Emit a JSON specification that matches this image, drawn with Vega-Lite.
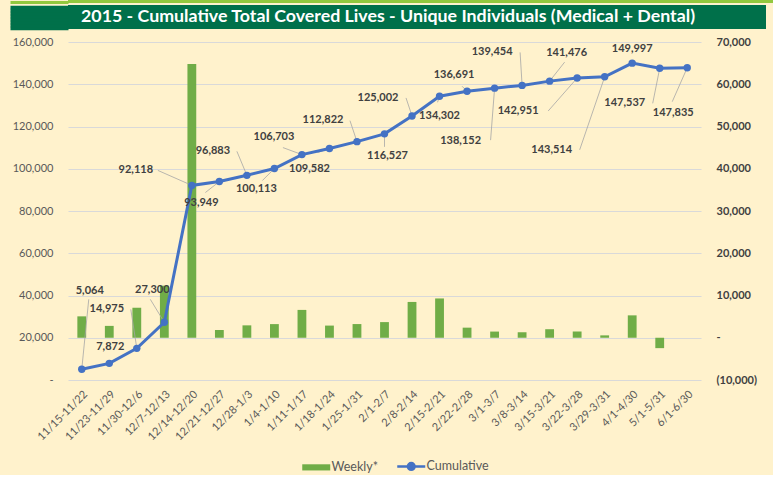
{
  "$schema": "https://vega.github.io/schema/vega-lite/v6.json",
  "background": "#FFF2CC",
  "padding": {"left": 8, "top": 0, "right": 0, "bottom": 0},
  "config": {
    "view": {"stroke": null},
    "font": "Lato",
    "axis": {"labelFont": "Lato", "titleFont": "Lato"},
    "legend": {"labelFont": "Lato"}
  },
  "datasets": {
    "main": [
      {"week": "11/15-11/22", "weekly": 5064, "cumulative": 5064},
      {"week": "11/23-11/29", "weekly": 2808, "cumulative": 7872},
      {"week": "11/30-12/6", "weekly": 7103, "cumulative": 14975},
      {"week": "12/7-12/13", "weekly": 12325, "cumulative": 27300},
      {"week": "12/14-12/20", "weekly": 64818, "cumulative": 92118},
      {"week": "12/21-12/27", "weekly": 1831, "cumulative": 93949},
      {"week": "12/28-1/3", "weekly": 2934, "cumulative": 96883},
      {"week": "1/4-1/10", "weekly": 3230, "cumulative": 100113},
      {"week": "1/11-1/17", "weekly": 6590, "cumulative": 106703},
      {"week": "1/18-1/24", "weekly": 2879, "cumulative": 109582},
      {"week": "1/25-1/31", "weekly": 3240, "cumulative": 112822},
      {"week": "2/1-2/7", "weekly": 3705, "cumulative": 116527},
      {"week": "2/8-2/14", "weekly": 8475, "cumulative": 125002},
      {"week": "2/15-2/21", "weekly": 9300, "cumulative": 134302},
      {"week": "2/22-2/28", "weekly": 2389, "cumulative": 136691},
      {"week": "3/1-3/7", "weekly": 1461, "cumulative": 138152},
      {"week": "3/8-3/14", "weekly": 1302, "cumulative": 139454},
      {"week": "3/15-3/21", "weekly": 2022, "cumulative": 141476},
      {"week": "3/22-3/28", "weekly": 1475, "cumulative": 142951},
      {"week": "3/29-3/31", "weekly": 563, "cumulative": 143514},
      {"week": "4/1-4/30", "weekly": 5300, "cumulative": 149997},
      {"week": "5/1-5/31", "weekly": -2460, "cumulative": 147537},
      {"week": "6/1-6/30", "weekly": 0, "cumulative": 147835}
    ]
  },
  "columns": 1,
  "spacing": 6,
  "concat": [
    {
      "columns": 1,
      "spacing": 1,
      "concat": [
        {
          "width": 705,
          "height": 3,
          "view": {"fill": "#92C83E", "stroke": null},
          "data": {"values": [{"t": ""}]},
          "mark": {"type": "text", "fontSize": 0},
          "encoding": {
            "text": {"field": "t"},
            "y": {
              "datum": 0.5,
              "type": "quantitative",
              "scale": {"domain": [0, 1]},
              "axis": {"values": [0.5], "orient": "left", "tickSize": 58, "tickWidth": 3, "tickColor": "#92C83E", "tickCap": "butt", "labels": false, "domain": false, "grid": false, "title": null}
            }
          }
        },
        {
          "width": 698,
          "height": 24,
          "view": {"fill": "#00704A", "stroke": null},
          "data": {"values": [{"t": "2015 - Cumulative Total Covered Lives - Unique Individuals (Medical + Dental)"}]},
          "mark": {"type": "text", "color": "#FFFFFF", "fontSize": 17.8, "fontWeight": "bold", "font": "Lato", "dx": -29},
          "encoding": {
            "text": {"field": "t"},
            "y": {
              "datum": 0.5,
              "type": "quantitative",
              "scale": {"domain": [0, 1]},
              "axis": {"values": [0.0625, 0.1875, 0.3125, 0.4375, 0.5625, 0.6875, 0.8125, 0.9375], "orient": "left", "tickSize": 58, "tickWidth": 3.3, "tickColor": "#00704A", "tickCap": "butt", "labels": false, "domain": false, "grid": false, "title": null}
            }
          }
        }
      ]
    },
    {
      "width": 633,
      "height": 338,
      "data": {"name": "main"},
      "encoding": {
        "x": {
          "field": "week",
          "type": "nominal",
          "sort": null,
          "scale": {"paddingInner": 0, "paddingOuter": 0},
          "axis": {
            "title": null,
            "labelAngle": -45,
            "domain": false,
            "ticks": false,
            "labelColor": "#595959",
            "labelFontSize": 11,
            "labelPadding": 8,
            "labelOverlap": false
          }
        }
      },
      "layer": [
        {
          "mark": {"type": "bar", "width": {"band": 0.32}},
          "encoding": {
            "y": {
              "field": "weekly",
              "type": "quantitative",
              "scale": {"domain": [-10000, 70000], "nice": false, "zero": false},
              "axis": {
                "orient": "right",
                "title": null,
                "values": [-10000, 0, 10000, 20000, 30000, 40000, 50000, 60000, 70000],
                "grid": false,
                "domain": false,
                "ticks": false,
                "labelPadding": 15,
                "labelFontSize": 11,
                "labelFontWeight": "bold",
                "labelColor": "#404040",
                "labelExpr": "datum.value < 0 ? '(' + format(-datum.value, ',') + ')' : (datum.value === 0 ? '-' : format(datum.value, ','))"
              }
            },
            "color": {
              "datum": "Weekly",
              "type": "nominal",
              "scale": {"domain": ["Weekly", "Cumulative"], "range": ["#70AD47", "#4472C4"]},
              "legend": {
                "title": null,
                "orient": "none",
                "direction": "horizontal",
                "legendX": 242,
                "legendY": 460,
                "padding": 0,
                "symbolSize": 784,
                "labelFontSize": 12.5,
                "labelColor": "#595959",
                "labelOffset": 9,
                "columnPadding": 14,
                "labelExpr": "datum.label === 'Weekly' ? 'Weekly*' : datum.label",
                "encode": {
                  "symbols": {
                    "update": {
                      "size": {"value": 784},
                      "shape": {"signal": "datum.value === 'Weekly' ? 'M-1,-0.22H1V0.22H-1Z' : 'M-1,0H1M0.24,0A0.24,0.24 0 1,1 -0.24,0A0.24,0.24 0 1,1 0.24,0Z'"},
                      "fill": {"signal": "datum.value === 'Weekly' ? '#70AD47' : '#4472C4'"},
                      "stroke": {"signal": "datum.value === 'Weekly' ? '#70AD47' : '#4472C4'"},
                      "strokeWidth": {"signal": "datum.value === 'Weekly' ? 0 : 2.5"},
                      "fillOpacity": {"value": 1},
                      "opacity": {"value": 1}
                    }
                  }
                }
              }
            }
          }
        },
        {
          "encoding": {
            "y": {
              "field": "cumulative",
              "type": "quantitative",
              "scale": {"domain": [0, 160000], "nice": false},
              "axis": {
                "orient": "left",
                "title": null,
                "values": [0, 20000, 40000, 60000, 80000, 100000, 120000, 140000, 160000],
                "grid": true,
                "gridColor": "#D9D9D9",
                "gridWidth": 1,
                "domain": false,
                "ticks": false,
                "labelPadding": 15,
                "labelFontSize": 11,
                "labelColor": "#595959",
                "labelExpr": "datum.value === 0 ? '-\u00a0\u00a0' : format(datum.value, ',')"
              }
            }
          },
          "layer": [
            {
              "transform": [{"window": [{"op": "row_number", "as": "idx"}]}],
              "mark": {
                "type": "rule",
                "color": "#A6A6A6",
                "strokeWidth": 0.8,
                "x2Offset": {"expr": "[7,0,-6,-14,-34,-14,-10,-12,-19,-12,-7,0,-6,-2,-5,-4,-2,15,-29,-25,0,-7,-15][datum.idx-1]"},
                "y2Offset": {"expr": "[-70,0,-39,-23,-15,11,-24,12,-7,4,-21,13,-18,6,-5,52,-33,-19,33,73,0,35,34][datum.idx-1]"}
              },
              "encoding": {
                "x2": {"field": "week"},
                "y2": {"field": "cumulative"}
              }
            },
            {
              "mark": {"type": "line", "strokeWidth": 3, "point": {"filled": true, "size": 55}},
              "encoding": {
                "color": {"datum": "Cumulative", "type": "nominal"}
              }
            },
            {
              "transform": [{"window": [{"op": "row_number", "as": "idx"}]}],
              "mark": {
                "type": "text",
                "fontSize": 11,
                "fontWeight": "bold",
                "color": "#404040",
                "dx": {"expr": "[8,1,-30,-12,-56,-18,-34,-18,-28,-20,-34,3,-34,0,-13,-34,-30,17,-59,-53,0,-35,-14][datum.idx-1]"},
                "dy": {"expr": "[-78,-16,-39,-32,-15,21,-24,20,-18,20,-22,22,-18,20,-16,53,-33,-28,33,73,-14,35,45][datum.idx-1]"}
              },
              "encoding": {
                "text": {"field": "cumulative", "type": "quantitative", "format": ","}
              }
            }
          ]
        }
      ],
      "resolve": {"scale": {"y": "independent"}}
    }
  ]
}
